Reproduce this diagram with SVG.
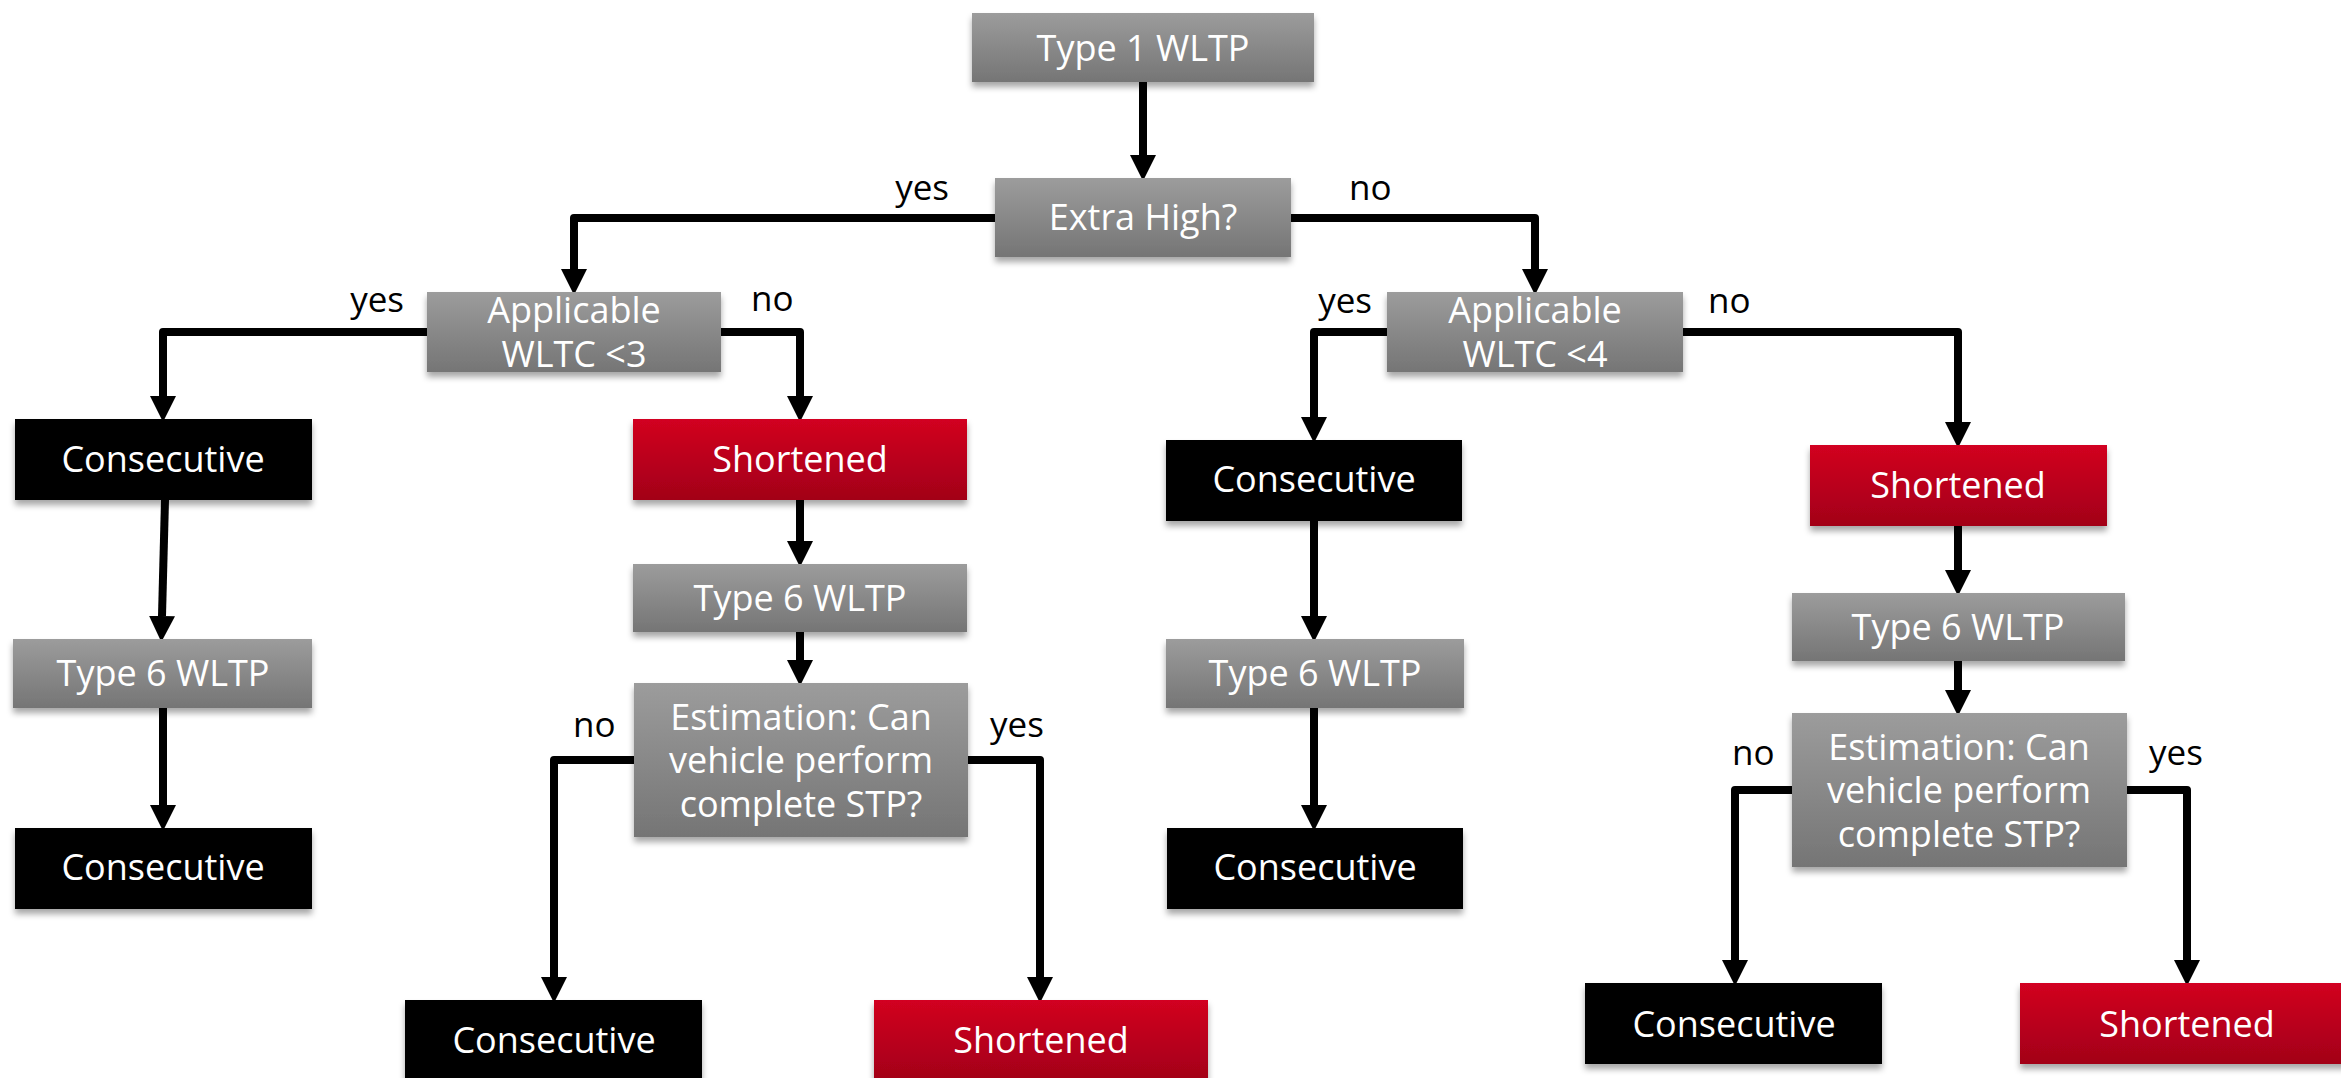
<svg xmlns="http://www.w3.org/2000/svg" width="2341" height="1078" viewBox="0 0 2341 1078">
<defs>
<linearGradient id="gGray" x1="0" y1="0" x2="0" y2="1"><stop offset="0" stop-color="#9c9c9c"/><stop offset="1" stop-color="#757575"/></linearGradient>
<linearGradient id="gRed" x1="0" y1="0" x2="0" y2="1"><stop offset="0" stop-color="#d20020"/><stop offset="1" stop-color="#a20018"/></linearGradient>
<filter id="sh" x="-10%" y="-10%" width="120%" height="140%"><feDropShadow dx="0" dy="5" stdDeviation="3" flood-color="#000" flood-opacity="0.35"/></filter>
<marker id="arr" markerUnits="userSpaceOnUse" markerWidth="26" markerHeight="26" refX="0" refY="12" orient="auto" viewBox="0 0 24 24"><path d="M0,0 L24,12 L0,24 z" fill="#000"/></marker>
<style>
.gray{fill:url(#gGray);filter:url(#sh)}
.red{fill:url(#gRed);filter:url(#sh)}
.blk{fill:#000;filter:url(#sh)}
.nt{font-family:'Open Sans','Noto Sans',sans-serif;font-size:36px;fill:#fff;text-anchor:middle}
.lb{font-family:'Open Sans','Noto Sans',sans-serif;font-size:35px;fill:#000}
.c{fill:none;stroke:#000;stroke-width:8;stroke-linejoin:round;marker-end:url(#arr)}
</style>
</defs>
<rect width="2341" height="1078" fill="#fff"/>
<g id="connectors">
<path class="c" d="M1143,82 V155"/>
<path class="c" d="M995,218 H574 V269"/>
<path class="c" d="M1291,218 H1535 V269"/>
<path class="c" d="M427,332 H163 V396"/>
<path class="c" d="M721,332 H800 V396"/>
<path class="c" d="M165,500 L162,616"/>
<path class="c" d="M163,708 V805"/>
<path class="c" d="M800,500 V541"/>
<path class="c" d="M800,632 V660"/>
<path class="c" d="M634,760 H554 V977"/>
<path class="c" d="M968,760 H1040 V977"/>
<path class="c" d="M1387,332 H1314 V417"/>
<path class="c" d="M1683,332 H1958 V422"/>
<path class="c" d="M1314,521 V616"/>
<path class="c" d="M1314,708 V805"/>
<path class="c" d="M1958,526 V570"/>
<path class="c" d="M1958,661 V690"/>
<path class="c" d="M1792,790 H1735 V960"/>
<path class="c" d="M2127,790 H2187 V960"/>
</g>
<g id="labels">
<text class="lb" x="949" y="200" text-anchor="end">yes</text>
<text class="lb" x="1349" y="200">no</text>
<text class="lb" x="404" y="312" text-anchor="end">yes</text>
<text class="lb" x="751" y="311">no</text>
<text class="lb" x="1372" y="313" text-anchor="end">yes</text>
<text class="lb" x="1708" y="313">no</text>
<text class="lb" x="573" y="737">no</text>
<text class="lb" x="990" y="737">yes</text>
<text class="lb" x="1732" y="765">no</text>
<text class="lb" x="2149" y="765">yes</text>
</g>
<g id="n-type1"><rect class="gray" x="972" y="13" width="342" height="69"/><text class="nt" x="1143" y="61">Type 1 WLTP</text></g>
<g id="n-extrahigh"><rect class="gray" x="995" y="178" width="296" height="79"/><text class="nt" x="1143" y="230">Extra High?</text></g>
<g id="n-app3"><rect class="gray" x="427" y="292" width="294" height="80"/><text class="nt" x="574" y="323">Applicable</text><text class="nt" x="574" y="367">WLTC &lt;3</text></g>
<g id="n-app4"><rect class="gray" x="1387" y="292" width="296" height="80"/><text class="nt" x="1535" y="323">Applicable</text><text class="nt" x="1535" y="367">WLTC &lt;4</text></g>
<g id="n-cons-l1"><rect class="blk" x="15" y="419" width="297" height="81"/><text class="nt" x="163" y="472">Consecutive</text></g>
<g id="n-short-l2"><rect class="red" x="633" y="419" width="334" height="81"/><text class="nt" x="800" y="472">Shortened</text></g>
<g id="n-type6-l1"><rect class="gray" x="13" y="639" width="299" height="69"/><text class="nt" x="163" y="686">Type 6 WLTP</text></g>
<g id="n-cons-l1b"><rect class="blk" x="15" y="828" width="297" height="81"/><text class="nt" x="163" y="880">Consecutive</text></g>
<g id="n-type6-l2"><rect class="gray" x="633" y="564" width="334" height="68"/><text class="nt" x="800" y="611">Type 6 WLTP</text></g>
<g id="n-est-l2"><rect class="gray" x="634" y="683" width="334" height="154"/><text class="nt" x="801" y="730">Estimation: Can</text><text class="nt" x="801" y="773">vehicle perform</text><text class="nt" x="801" y="817">complete STP?</text></g>
<g id="n-cons-l2"><rect class="blk" x="405" y="1000" width="297" height="81"/><text class="nt" x="554" y="1053">Consecutive</text></g>
<g id="n-short-l2b"><rect class="red" x="874" y="1000" width="334" height="81"/><text class="nt" x="1041" y="1053">Shortened</text></g>
<g id="n-cons-m1"><rect class="blk" x="1166" y="440" width="296" height="81"/><text class="nt" x="1314" y="492">Consecutive</text></g>
<g id="n-type6-m"><rect class="gray" x="1166" y="639" width="298" height="69"/><text class="nt" x="1315" y="686">Type 6 WLTP</text></g>
<g id="n-cons-m2"><rect class="blk" x="1167" y="828" width="296" height="81"/><text class="nt" x="1315" y="880">Consecutive</text></g>
<g id="n-short-r"><rect class="red" x="1810" y="445" width="297" height="81"/><text class="nt" x="1958" y="498">Shortened</text></g>
<g id="n-type6-r"><rect class="gray" x="1792" y="593" width="333" height="68"/><text class="nt" x="1958" y="640">Type 6 WLTP</text></g>
<g id="n-est-r"><rect class="gray" x="1792" y="713" width="335" height="154"/><text class="nt" x="1959" y="760">Estimation: Can</text><text class="nt" x="1959" y="803">vehicle perform</text><text class="nt" x="1959" y="847">complete STP?</text></g>
<g id="n-cons-r"><rect class="blk" x="1585" y="983" width="297" height="81"/><text class="nt" x="1734" y="1037">Consecutive</text></g>
<g id="n-short-rb"><rect class="red" x="2020" y="983" width="334" height="81"/><text class="nt" x="2187" y="1037">Shortened</text></g>
</svg>
